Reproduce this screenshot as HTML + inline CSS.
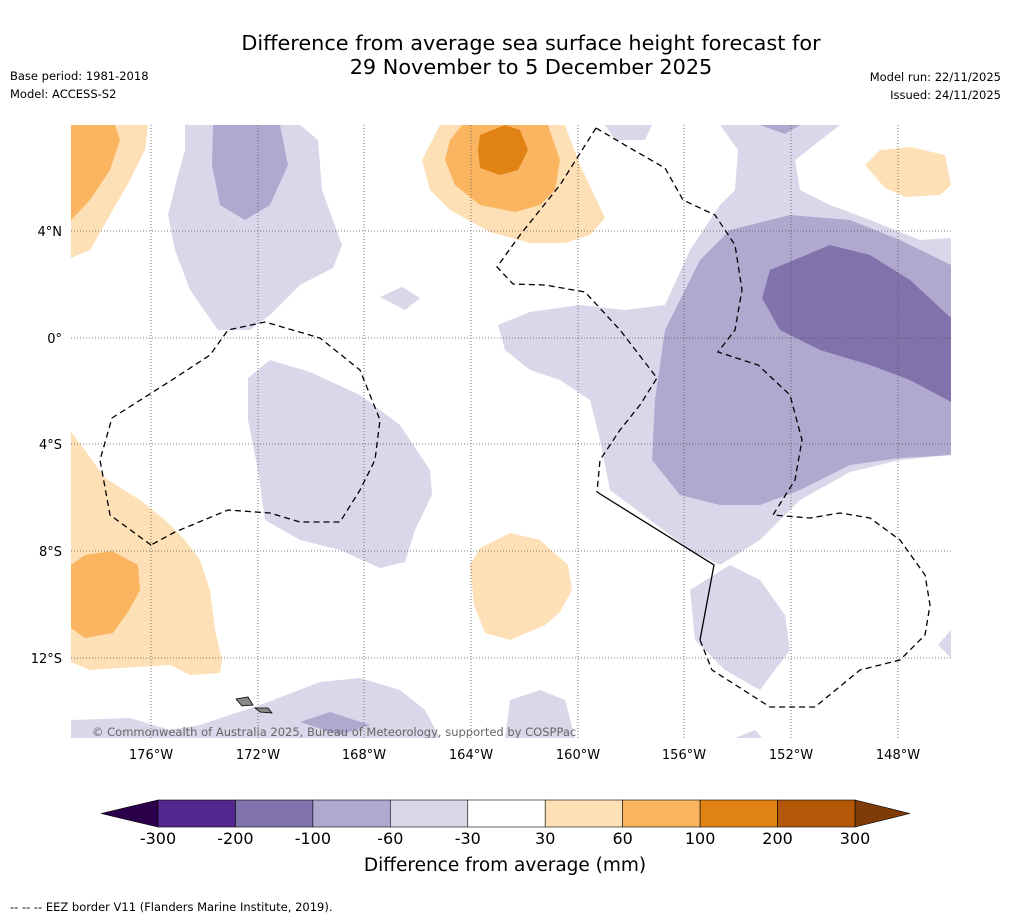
<!DOCTYPE html>
<html><head><meta charset="utf-8"><style>
body{margin:0;background:#fff;width:1011px;height:919px;overflow:hidden;font-family:"DejaVu Sans",sans-serif}
</style></head><body>
<svg width="1011" height="919" xmlns="http://www.w3.org/2000/svg" font-family="DejaVu Sans, sans-serif">
<rect width="1011" height="919" fill="#fff"/>
<text x="531" y="50" font-size="20.8" text-anchor="middle">Difference from average sea surface height forecast for</text>
<text x="531" y="74" font-size="20.8" text-anchor="middle">29 November to 5 December 2025</text>
<text x="10" y="80" font-size="11.5">Base period: 1981-2018</text>
<text x="10" y="98" font-size="11.5">Model: ACCESS-S2</text>
<text x="1001" y="81" font-size="11.5" text-anchor="end">Model run: 22/11/2025</text>
<text x="1001" y="99" font-size="11.5" text-anchor="end">Issued: 24/11/2025</text>
<defs><clipPath id="mc"><rect x="71" y="125" width="880" height="613"/></clipPath></defs>
<g clip-path="url(#mc)">
<g fill="#d8d8ea">
<path d="M185,125 L300,125 318,140 322,190 342,245 333,268 300,285 270,315 250,330 218,330 190,290 175,250 168,215 178,175 185,150Z"/>
<path d="M248,378 270,360 310,372 360,395 400,425 430,470 432,495 415,530 405,562 380,568 340,550 300,540 265,520 258,470 248,420Z"/>
<path d="M498,325 530,312 580,305 625,310 665,305 690,250 720,205 735,190 738,150 720,125 840,125 795,160 800,190 830,205 870,220 920,240 951,238 951,455 900,460 850,472 800,500 760,540 720,565 690,550 650,520 610,490 600,440 590,400 560,380 530,370 505,350Z"/>
<path d="M690,590 730,565 760,580 785,615 790,650 760,690 725,670 695,640Z"/>
<path d="M605,125 652,125 645,140 615,140Z"/>
<path d="M71,720 130,718 170,730 200,725 260,705 320,682 360,678 400,690 425,710 440,738 71,738Z"/>
<path d="M505,738 510,700 540,690 565,700 575,738Z"/>
<path d="M735,738 755,730 762,738Z"/>
<path d="M380,297 402,287 420,298 405,310Z"/>
<path d="M938,645 951,630 951,658Z"/>
</g>
<g fill="#b0a8cf">
<path d="M213,125 280,125 288,165 270,205 245,220 220,205 212,165Z"/>
<path d="M665,330 700,260 730,230 790,215 850,220 900,240 951,265 951,455 900,458 850,465 800,490 760,505 720,505 680,495 652,460 655,400Z"/>
<path d="M300,722 330,712 370,725 340,735Z"/>
<path d="M760,125 800,125 785,134Z"/>
</g>
<g fill="#8073ac">
<path d="M770,270 830,245 870,255 910,280 951,318 951,402 910,380 870,365 820,350 780,330 762,298Z"/>
</g>
<g fill="#fde0b6">
<path d="M71,125 148,125 145,150 130,180 110,215 90,250 71,258Z"/>
<path d="M440,125 565,125 580,165 605,218 590,235 565,243 530,243 490,232 450,210 430,190 422,160Z"/>
<path d="M865,165 880,150 910,147 945,155 951,185 940,195 905,197 885,188Z"/>
<path d="M71,432 85,450 105,478 140,500 165,520 185,540 200,560 210,590 215,630 222,660 220,673 190,675 170,665 120,668 90,670 71,662Z"/>
<path d="M470,565 480,548 510,533 540,540 568,565 572,590 560,612 545,625 510,640 485,633 474,605Z"/>
</g>
<g fill="#fbb560">
<path d="M71,125 115,125 120,140 110,170 90,200 71,220Z"/>
<path d="M462,125 548,125 560,160 555,190 540,205 515,212 480,205 455,185 445,160 450,140Z"/>
<path d="M71,565 85,555 112,551 138,565 140,590 128,612 113,633 85,638 71,628Z"/>
</g>
<g fill="#e08214">
<path d="M480,135 505,125 520,130 528,150 518,170 500,175 480,168 478,150Z"/>
</g>
<g stroke="#555" stroke-width="0.8" stroke-dasharray="1,2">
<line x1="151" y1="125" x2="151" y2="738"/><line x1="258" y1="125" x2="258" y2="738"/><line x1="364" y1="125" x2="364" y2="738"/><line x1="471" y1="125" x2="471" y2="738"/><line x1="578" y1="125" x2="578" y2="738"/><line x1="684" y1="125" x2="684" y2="738"/><line x1="791" y1="125" x2="791" y2="738"/><line x1="898" y1="125" x2="898" y2="738"/>
<line x1="71" y1="231" x2="951" y2="231"/><line x1="71" y1="338" x2="951" y2="338"/><line x1="71" y1="444" x2="951" y2="444"/><line x1="71" y1="551" x2="951" y2="551"/><line x1="71" y1="658" x2="951" y2="658"/>
</g>
<g fill="none" stroke="#000" stroke-width="1.3">
<path stroke-dasharray="6,4" d="M151,545 110,515 100,460 112,418 175,378 210,355 228,330 265,322 320,338 360,370 380,420 375,460 360,490 340,522 300,522 270,513 228,510 175,532 151,545"/>
<path stroke-dasharray="6,4" d="M596,128 630,148 665,168 683,200 715,215 735,245 742,290 735,330 718,352 758,365 790,395 802,440 795,480 773,515 810,518 840,513 870,518 900,540 925,575 930,605 925,635 900,660 860,670 815,707 770,707 712,670 700,640"/>
<path stroke-dasharray="6,4" d="M596,128 560,185 520,235 497,267 513,284 545,285 585,292 620,330 657,378 640,405 620,430 600,460 597,492"/>
<path d="M597,492 714,565 700,640"/>
</g>
<g fill="#888" stroke="#000" stroke-width="0.8">
<path d="M236,699 248,697 253,705 242,706Z"/><path d="M255,708 268,708 272,713 260,712Z"/>
</g>
<text x="92" y="736" font-size="11.5" fill="#666">© Commonwealth of Australia 2025, Bureau of Meteorology, supported by COSPPac</text>
</g>
<g font-size="13">
<text x="151" y="759" text-anchor="middle">176°W</text><text x="258" y="759" text-anchor="middle">172°W</text><text x="364" y="759" text-anchor="middle">168°W</text><text x="471" y="759" text-anchor="middle">164°W</text><text x="578" y="759" text-anchor="middle">160°W</text><text x="684" y="759" text-anchor="middle">156°W</text><text x="791" y="759" text-anchor="middle">152°W</text><text x="898" y="759" text-anchor="middle">148°W</text>
<text x="62" y="236" text-anchor="end">4°N</text><text x="62" y="343" text-anchor="end">0°</text><text x="62" y="449" text-anchor="end">4°S</text><text x="62" y="556" text-anchor="end">8°S</text><text x="62" y="663" text-anchor="end">12°S</text>
</g>
<g id="cbar"></g>
<text x="505" y="871" font-size="18.5" text-anchor="middle">Difference from average (mm)</text>
<text x="10" y="911" font-size="11.5">--  --  -- EEZ border V11 (Flanders Marine Institute, 2019).</text>
</svg>
<script>
const levels=[-300,-200,-100,-60,-30,30,60,100,200,300];
const levelColors=["#54278f","#8073ac","#b0a8cf","#d8d8ea","#ffffff","#fde0b6","#fbb560","#e08214","#b35806"];
const extendColors=["#2d004b","#7f3b08"];
const NS="http://www.w3.org/2000/svg";
const g=document.getElementById('cbar');
const x0=158,x1=855,y0=800,y1=827;
const step=(x1-x0)/(levels.length-1);
function xi(i){return x0+i*step;}
function mk(t,a){const e=document.createElementNS(NS,t);for(const k in a)e.setAttribute(k,a[k]);g.appendChild(e);return e;}
let e=mk('polygon',{points:`101,813.5 ${x0},${y0} ${x0},${y1}`,fill:extendColors[0],stroke:'#000','stroke-width':0.6});


e=mk('polygon',{points:`910,813.5 ${x1},${y0} ${x1},${y1}`,fill:extendColors[1],stroke:'#000','stroke-width':0.6});


levelColors.forEach((c,i)=>{
 const r=mk('rect',{x:xi(i),y:y0,width:step,height:y1-y0,fill:c,stroke:'#000','stroke-width':0.6});
 
 
});
levels.forEach((v,i)=>{
 const t=mk('text',{x:xi(i),y:844,'font-size':16,'text-anchor':'middle'});
 t.textContent=v;
 
 
});
</script>
</body></html>
